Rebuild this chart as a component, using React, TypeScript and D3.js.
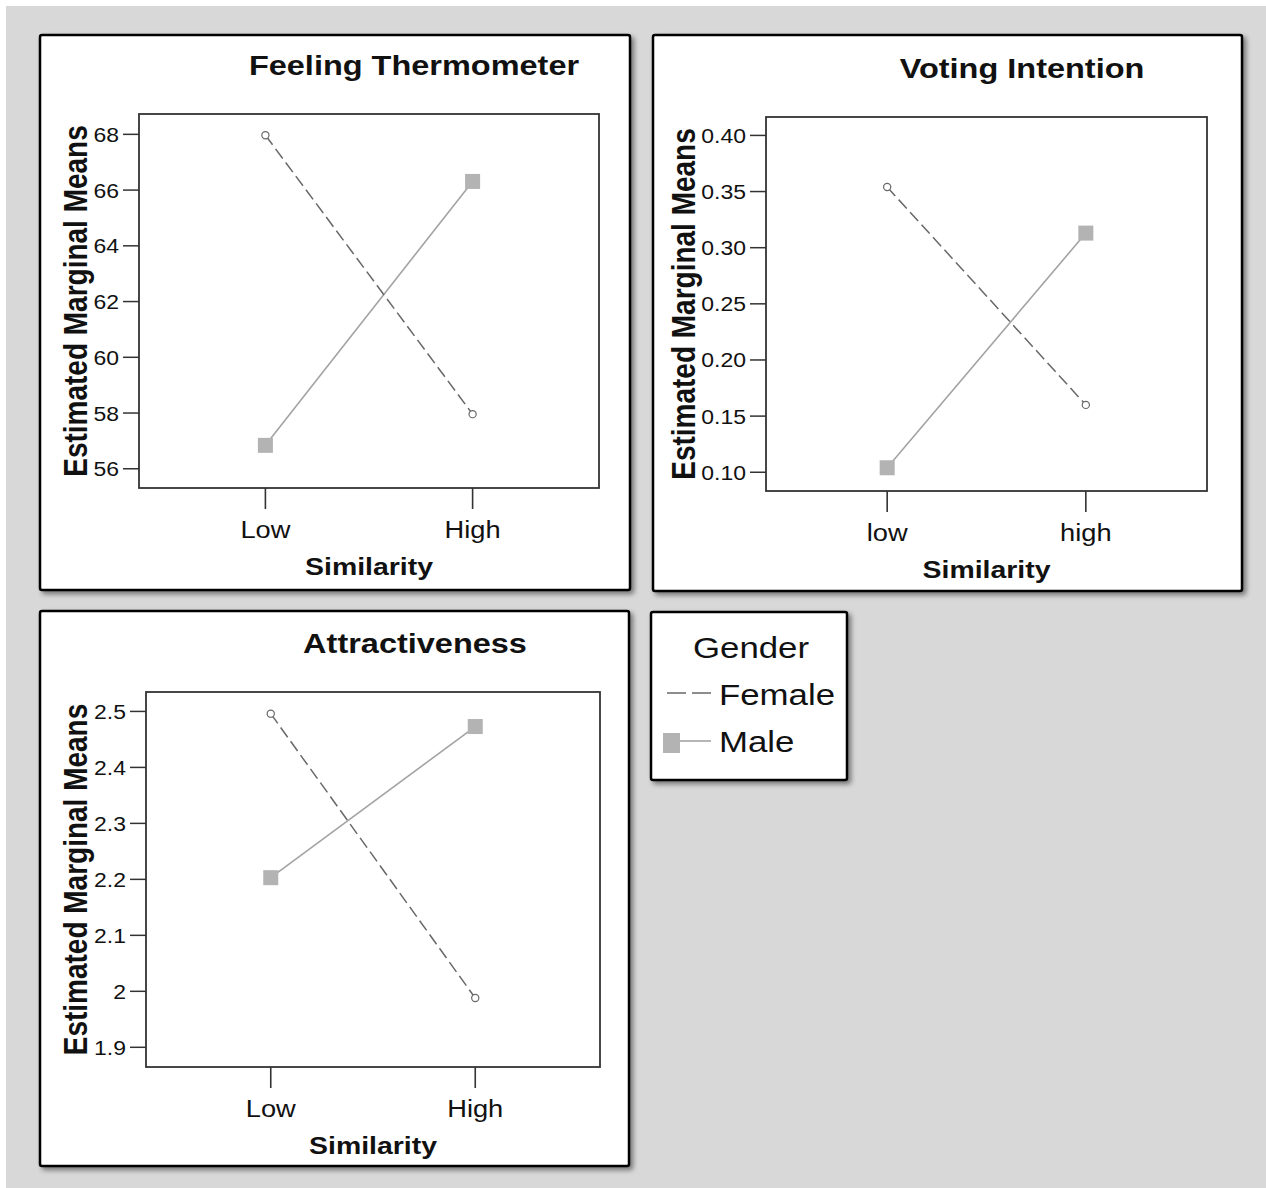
import React from "react";
import * as d3 from "d3";

// ---------- data ----------
const similarityUpper = ["Low", "High"];
const similarityLower = ["low", "high"];

const thermometerFemale = [67.97, 57.96];
const thermometerMale = [56.84, 66.31];
const thermometerTicks = [56, 58, 60, 62, 64, 66, 68];

const votingFemale = [0.354, 0.16];
const votingMale = [0.104, 0.313];
const votingTicks = [0.1, 0.15, 0.2, 0.25, 0.3, 0.35, 0.4];

const attractFemale = [2.496, 1.988];
const attractMale = [2.203, 2.473];
const attractTicks = [1.9, 2.0, 2.1, 2.2, 2.3, 2.4, 2.5];

const legendTitle = "Gender";
const seriesNames = ["Female", "Male"];

// ---------- style ----------
const FONT = "'Liberation Sans', Arial, sans-serif";
const SX = 1.16; // horizontal stretch of the original bitmap
const MALE_LINE = "#a3a3a3";
const MALE_FILL = "#b3b3b3";
const FEMALE_LINE = "#686868";
const AXIS = "#333";

type PanelCfg = {
  title: string;
  cats: string[];
  female: number[];
  male: number[];
  ticks: number[];
  tickFmt: (v: number) => string;
  box: [number, number, number, number]; // x,y,w,h
  plot: [number, number, number, number]; // left, top, right, bottom
  yDomain: [number, number];
  titleX: number;
  titleY: number;
  yTitleX: number;
};

const panels: PanelCfg[] = [
  {
    title: "Feeling Thermometer",
    cats: similarityUpper,
    female: thermometerFemale,
    male: thermometerMale,
    ticks: thermometerTicks,
    tickFmt: (v) => d3.format("d")(v),
    box: [40, 35, 590, 555],
    plot: [139, 114, 599, 488],
    yDomain: [55.31, 68.73],
    titleX: 414,
    titleY: 75,
    yTitleX: 87,
  },
  {
    title: "Voting Intention",
    cats: similarityLower,
    female: votingFemale,
    male: votingMale,
    ticks: votingTicks,
    tickFmt: (v) => d3.format(".2f")(v),
    box: [653, 35, 589, 556],
    plot: [766, 117, 1207, 491],
    yDomain: [0.0833, 0.4164],
    titleX: 1022,
    titleY: 78,
    yTitleX: 695,
  },
  {
    title: "Attractiveness",
    cats: similarityUpper,
    female: attractFemale,
    male: attractMale,
    ticks: attractTicks,
    tickFmt: (v) => (Math.abs(v - 2) < 1e-9 ? "2" : d3.format(".1f")(v)),
    box: [40, 611, 589, 555],
    plot: [146, 692, 600, 1067],
    yDomain: [1.8648, 2.5347],
    titleX: 415,
    titleY: 653,
    yTitleX: 87,
  },
];

function SText(props: {
  x: number;
  y: number;
  size: number;
  bold?: boolean;
  anchor?: "start" | "middle" | "end";
  rotate?: boolean;
  children: React.ReactNode;
  fill?: string;
  sx?: number;
}) {
  const { x, y, size, bold, anchor = "start", rotate, children, fill = "#111", sx = SX } = props;
  return (
    <text
      transform={`translate(${x},${y}) scale(${sx},1)${rotate ? " rotate(-90)" : ""}`}
      fontSize={size}
      fontWeight={bold ? "bold" : "normal"}
      fontFamily={FONT}
      textAnchor={anchor}
      fill={fill}
    >
      {children}
    </text>
  );
}

function Panel({ cfg }: { cfg: PanelCfg }) {
  const [bx, by, bw, bh] = cfg.box;
  const [pl, pt, pr, pb] = cfg.plot;
  const x = d3.scalePoint<string>().domain(cfg.cats).range([pl, pr]).padding(0.61);
  const y = d3.scaleLinear().domain(cfg.yDomain).range([pb, pt]);
  const line = d3
    .line<number>()
    .x((_, i) => x(cfg.cats[i]) as number)
    .y((d) => y(d));
  const cx = (pl + pr) / 2;
  const cy = (pt + pb) / 2;
  const sq = 15;
  return (
    <g>
      <rect x={bx} y={by} width={bw} height={bh} rx={2} fill="#fff" stroke="#000" strokeWidth={2.5} filter="url(#shadow)" />
      <SText x={cfg.titleX} y={cfg.titleY} size={28} bold anchor="middle">
        {cfg.title}
      </SText>
      <rect x={pl} y={pt} width={pr - pl} height={pb - pt} fill="#fff" stroke={AXIS} strokeWidth={1.8} />
      {cfg.ticks.map((t) => (
        <g key={t}>
          <line x1={pl - 16} x2={pl} y1={y(t)} y2={y(t)} stroke={AXIS} strokeWidth={1.5} />
          <SText x={pl - 20} y={y(t) + 7.5} size={20.5} anchor="end" sx={1.12}>
            {cfg.tickFmt(t)}
          </SText>
        </g>
      ))}
      {cfg.cats.map((c) => (
        <g key={c}>
          <line x1={x(c)} x2={x(c)} y1={pb} y2={pb + 21} stroke={AXIS} strokeWidth={1.6} />
          <SText x={x(c) as number} y={pb + 50} size={23.5} anchor="middle">
            {c}
          </SText>
        </g>
      ))}
      <SText x={cx} y={pb + 87} size={24.5} bold anchor="middle">
        Similarity
      </SText>
      <SText x={cfg.yTitleX} y={cy} size={28} bold anchor="middle" rotate>
        Estimated Marginal Means
      </SText>
      {/* Male: solid line + squares */}
      <path d={line(cfg.male) || ""} fill="none" stroke={MALE_LINE} strokeWidth={1.6} />
      {cfg.male.map((v, i) => (
        <rect
          key={i}
          x={(x(cfg.cats[i]) as number) - sq / 2}
          y={y(v) - sq / 2}
          width={sq}
          height={sq}
          fill={MALE_FILL}
        />
      ))}
      {/* Female: dashed line + open circles */}
      <path d={line(cfg.female) || ""} fill="none" stroke={FEMALE_LINE} strokeWidth={1.5} strokeDasharray="12,5" />
      {cfg.female.map((v, i) => (
        <circle key={i} cx={x(cfg.cats[i]) as number} cy={y(v)} r={3.6} fill="#fff" stroke={FEMALE_LINE} strokeWidth={1.2} />
      ))}
    </g>
  );
}

function Legend() {
  return (
    <g>
      <rect x={651} y={612} width={196} height={168} rx={2} fill="#fff" stroke="#000" strokeWidth={2.5} filter="url(#shadow)" />
      <SText x={751} y={658} size={30} anchor="middle">
        {legendTitle}
      </SText>
      <line x1={667} x2={711} y1={693} y2={693} stroke={FEMALE_LINE} strokeWidth={1.4} strokeDasharray="19,6" />
      <SText x={719} y={705} size={30}>
        {seriesNames[0]}
      </SText>
      <line x1={680} x2={711} y1={741} y2={741} stroke={MALE_LINE} strokeWidth={1.6} />
      <rect x={663} y={733} width={17} height={20} fill={MALE_FILL} />
      <SText x={719} y={752} size={30}>
        {seriesNames[1]}
      </SText>
    </g>
  );
}

export default function App() {
  return (
    <svg
      width={1266}
      height={1188}
      style={{ position: "absolute", left: 0, top: 0, display: "block" }}
    >
      <defs>
        <filter id="shadow" x="-5%" y="-5%" width="115%" height="115%">
          <feDropShadow dx="3" dy="3" stdDeviation="2.5" floodColor="#000" floodOpacity="0.45" />
        </filter>
      </defs>
      <rect x={0} y={0} width={1266} height={1188} fill="#fff" />
      <rect x={6} y={6} width={1260} height={1182} fill="#d8d8d8" />
      {panels.map((p) => (
        <Panel key={p.title} cfg={p} />
      ))}
      <Legend />
    </svg>
  );
}
